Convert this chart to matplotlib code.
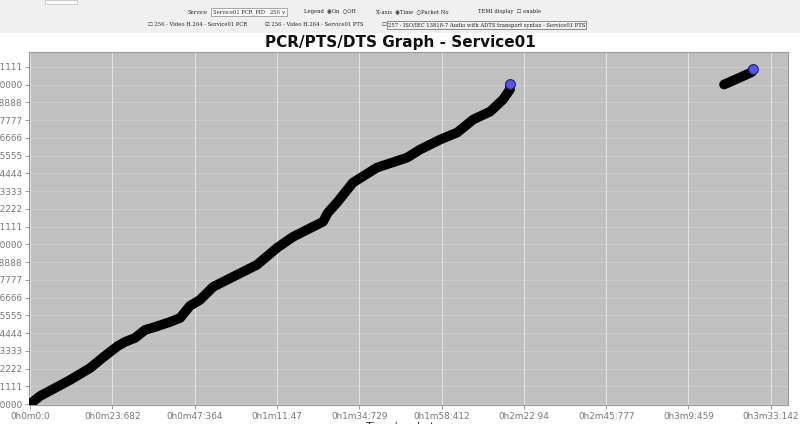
import numpy as np
import matplotlib.pyplot as plt
from matplotlib.patches import Rectangle

# PTS curve of PID 256 (time in seconds, PTS value)
pts_time = [0, 2.9, 7.2, 11.5, 17.3, 20.1, 23.0, 25.3, 27.3, 30.2, 33.1, 36.0,
            40.3, 43.2, 46.0, 48.9, 52.7, 58.4, 65.3, 71.1, 75.7, 79.7, 84.3,
            85.7, 88.3, 92.9, 99.8, 108.5, 112.2, 118.0, 122.9, 127.5, 132.4,
            136.1, 138.1, 138.1]
pts_value = [10000, 10502, 11003, 11505, 12257, 12759, 13260, 13637, 13887,
             14138, 14640, 14827, 15140, 15391, 16144, 16520, 17336, 17963,
             18715, 19781, 20471, 20910, 21411, 21976, 22603, 23857, 24797,
             25424, 25926, 26553, 26992, 27807, 28308, 29061, 29688, 30001]
# second short run near the end
pts2_time = [199.7, 204.3, 207.7, 208.0]
pts2_value = [30001, 30439, 30780, 30941]

x_ticks = [0, 23.682, 47.364, 71.047, 94.729, 118.412, 142.094, 165.777,
           189.459, 213.142]
x_labels = ['0h0m0:0', '0h0m23:682', '0h0m47:364', '0h1m11:47', '0h1m34:729',
            '0h1m58:412', '0h2m22:94', '0h2m45:777', '0h3m9:459', '0h3m33:142']
y_ticks = [10000 + k * 10000 / 9 for k in range(20)]

fig = plt.figure(figsize=(8, 4.24), dpi=100)

# control panel strip at the top
fig.patches.append(Rectangle((0, 1 - 33 / 424), 1, 33 / 424, transform=fig.transFigure,
                             facecolor='#f0f0f0', edgecolor='none'))
fig.patches.append(Rectangle((45 / 800, 1 - 4 / 424), 32 / 800, 4 / 424,
                             transform=fig.transFigure, facecolor='white',
                             edgecolor='#bbbbbb', lw=0.5))
ui = dict(fontsize=3.8, family=['DejaVu Serif', 'DejaVu Sans'], color='#222222',
          va='center')
row1 = 1 - 12 / 424
fig.text(188 / 800, row1, 'Service', **ui)
fig.text(213 / 800, row1, 'Service01 PCR_PID   256 \u2228', **ui,
         bbox=dict(boxstyle='square,pad=0.3', fc='white', ec='#888888', lw=0.5))
fig.text(304 / 800, row1, 'Legend  \u25c9On  \u25cbOff', **ui)
fig.text(376 / 800, row1, 'X-axis  \u25c9Time  \u25cbPacket No', **ui)
fig.text(478 / 800, row1, 'TEMI display  \u2610 enable', **ui)
row2 = 1 - 25 / 424
fig.text(148 / 800, row2, '\u2610 256 - Video H.264 - Service01 PCR', **ui)
fig.text(265 / 800, row2, '\u2611 256 - Video H.264 - Service01 PTS', **ui)
fig.text(382 / 800, row2, '\u2610', **ui)
fig.text(388 / 800, row2,
         '257 - ISO/IEC 13818-7 Audio with ADTS transport syntax - Service01 PTS',
         **ui, bbox=dict(boxstyle='square,pad=0.2', fc='none', ec='#666666', lw=0.5))

fig.text(0.5, 1 - 42 / 424, 'PCR/PTS/DTS Graph - Service01', ha='center',
         va='center', fontsize=11, fontweight='bold', color='#111111')

ax = fig.add_axes([29 / 800, 19 / 424, 759 / 800, 353 / 424])
ax.set_facecolor('#c0c0c0')
for s in ax.spines.values():
    s.set_color('#9a9a9a')
    s.set_linewidth(0.8)

ax.plot(pts_time, pts_value, color='black', lw=7, solid_capstyle='round',
        solid_joinstyle='round', zorder=3)
ax.plot(pts2_time, pts2_value, color='black', lw=7, solid_capstyle='round',
        solid_joinstyle='round', zorder=3)
ax.plot([pts_time[-1], pts2_time[-1]], [pts_value[-1], pts2_value[-1]], 'o',
        ms=7, mfc='#5555ee', mec='#222266', mew=0.8, ls='none', zorder=4)

ax.set_xlim(-0.3, 218.1)
ax.set_ylim(9940, 32035)
ax.set_xticks(x_ticks)
ax.set_xticklabels(x_labels)
ax.set_yticks(y_ticks)
ax.set_yticklabels(['%d' % int(v + 0.001) for v in y_ticks])
ax.tick_params(labelsize=6.4, colors='#777777', length=3, width=0.5, pad=2)
ax.grid(True, axis='x', color='#e8e8e8', lw=0.7, alpha=0.9)
ax.grid(True, axis='y', color='#d6d6d6', lw=0.6, alpha=0.7)
ax.set_axisbelow(True)
ax.set_xlabel('Time/packet no', fontsize=8, color='#333333', labelpad=1)

fig.savefig('out.png', dpi=100)
